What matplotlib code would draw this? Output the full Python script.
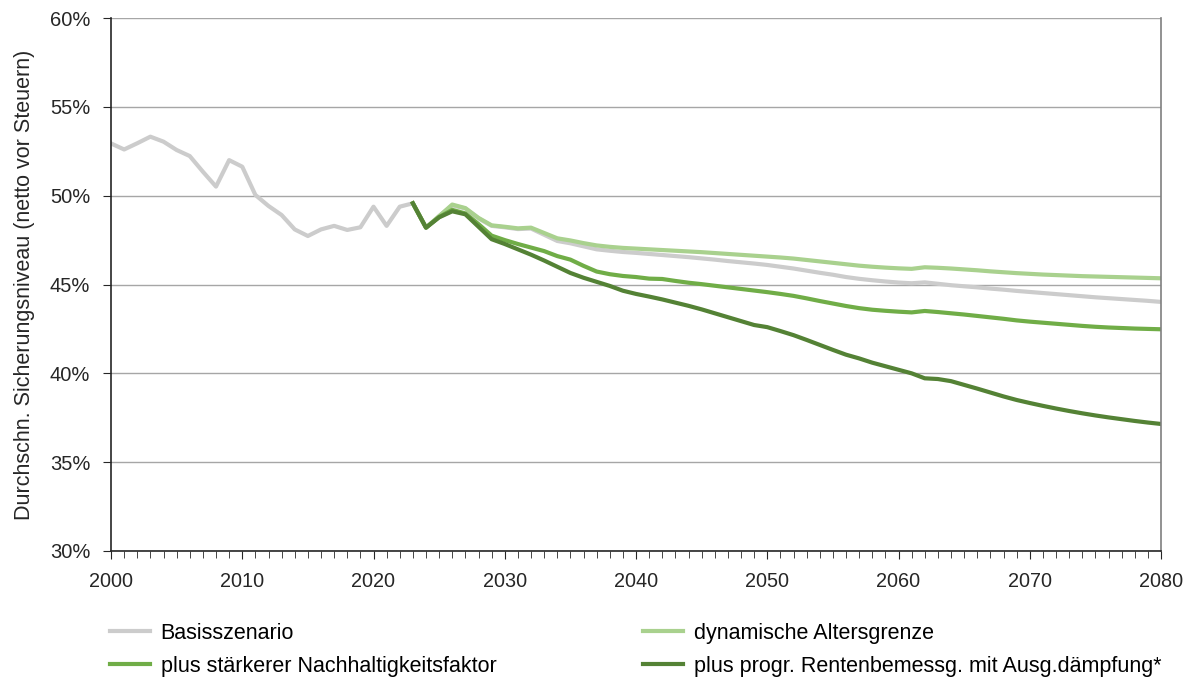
import numpy as np
import matplotlib
matplotlib.use("Agg")
import matplotlib.pyplot as plt
from matplotlib.ticker import MultipleLocator, FuncFormatter

plt.rcParams["font.family"] = ["Liberation Sans", "DejaVu Sans"]

# historical basis 2000-2022
hist_years = list(range(2000, 2023))
hist_vals = [52.94, 52.6, 52.95, 53.32, 53.04, 52.57, 52.23, 51.35, 50.51, 52.0,
             51.63, 50.04, 49.42, 48.91, 48.1, 47.73, 48.1, 48.3, 48.07, 48.22,
             49.38, 48.3, 49.38]

# scenario years 2023-2080
years = list(range(2023, 2081))
basis = [49.57, 48.2, 48.85, 49.45, 49.28, 48.72, 48.3, 48.22, 48.12, 48.15,
         47.8, 47.45, 47.32, 47.15, 46.98, 46.9, 46.83, 46.78, 46.72, 46.66,
         46.6, 46.54, 46.47, 46.4, 46.32, 46.25, 46.18, 46.1, 46.0, 45.9,
         45.78, 45.66, 45.55, 45.42, 45.32, 45.24, 45.17, 45.11, 45.07, 45.12,
         45.04, 44.96, 44.9, 44.84, 44.77, 44.71, 44.64, 44.58, 44.52, 44.46,
         44.4, 44.34, 44.28, 44.23, 44.18, 44.13, 44.08, 44.02]
dyn_alter = [49.57, 48.2, 48.85, 49.5, 49.3, 48.75, 48.33, 48.25, 48.16, 48.2,
             47.9, 47.6, 47.48, 47.33, 47.2, 47.12, 47.06, 47.02, 46.98, 46.94,
             46.9, 46.86, 46.82, 46.77, 46.72, 46.67, 46.62, 46.57, 46.52, 46.46,
             46.38, 46.3, 46.22, 46.14, 46.06, 46.0, 45.95, 45.91, 45.88, 45.97,
             45.94, 45.9, 45.85, 45.8, 45.74, 45.69, 45.64, 45.6, 45.56, 45.53,
             45.5, 45.47, 45.45, 45.43, 45.41, 45.39, 45.37, 45.35]
nachhalt = [49.57, 48.2, 48.8, 49.2, 49.0, 48.4, 47.75, 47.5, 47.28, 47.08,
            46.88, 46.6, 46.4, 46.05, 45.73, 45.58, 45.48, 45.42, 45.33, 45.31,
            45.2, 45.1, 45.02, 44.93, 44.84, 44.75, 44.66, 44.57, 44.47, 44.36,
            44.22, 44.07, 43.93, 43.79, 43.67, 43.58, 43.52, 43.47, 43.43, 43.51,
            43.45, 43.38, 43.31, 43.23, 43.15, 43.07, 42.98, 42.91, 42.85, 42.79,
            42.73, 42.67, 42.62, 42.58, 42.55, 42.52, 42.5, 42.48]
progr = [49.57, 48.2, 48.78, 49.12, 48.95, 48.25, 47.55, 47.28, 46.98, 46.68,
         46.35, 46.0, 45.65, 45.38, 45.15, 44.92, 44.65, 44.47, 44.32, 44.16,
         43.98, 43.8, 43.6, 43.38, 43.16, 42.94, 42.72, 42.6, 42.38, 42.15,
         41.88, 41.6, 41.32, 41.05, 40.84, 40.6, 40.4, 40.2, 40.0, 39.72,
         39.68, 39.56, 39.35, 39.14, 38.92, 38.7, 38.5, 38.33, 38.17, 38.02,
         37.88, 37.75, 37.63, 37.52, 37.42, 37.32, 37.23, 37.15]

labels = ["Basisszenario", "dynamische Altersgrenze",
          "plus stärkerer Nachhaltigkeitsfaktor",
          "plus progr. Rentenbemessg. mit Ausg.dämpfung*"]
colors = ["#cccccc", "#a9d18e", "#70ad47", "#548235"]

fig = plt.figure(figsize=(11.93, 6.83), dpi=100)
ax = fig.add_axes([111 / 1193, 132 / 683, 1050 / 1193, 533 / 683])

lw = 3.0
h0, = ax.plot(hist_years + years, hist_vals + basis, color=colors[0], lw=lw)
h1, = ax.plot(years, dyn_alter, color=colors[1], lw=lw)
h2, = ax.plot(years, nachhalt, color=colors[2], lw=lw)
h3, = ax.plot(years, progr, color=colors[3], lw=lw)

ax.set_xlim(2000, 2080)
ax.set_ylim(30, 60)
ax.xaxis.set_major_locator(MultipleLocator(10))
ax.xaxis.set_minor_locator(MultipleLocator(1))
ax.yaxis.set_major_locator(MultipleLocator(5))
ax.yaxis.set_major_formatter(FuncFormatter(lambda v, p: f"{v:.0f}%"))
ax.grid(axis="y", color="#a6a6a6", lw=1.0)
ax.set_axisbelow(True)
ax.spines["top"].set_visible(False)
for s in ["left", "bottom"]:
    ax.spines[s].set_color("#262626")
    ax.spines[s].set_linewidth(1.2)
ax.spines["right"].set_color("#7f7f7f")
ax.spines["right"].set_linewidth(1.2)
ax.tick_params(axis="x", which="major", direction="out", length=6,
               labelsize=14.3, colors="#262626", pad=9)
ax.tick_params(axis="x", which="minor", direction="out", length=5,
               color="#262626")
ax.tick_params(axis="y", which="major", direction="out", length=6,
               labelsize=14.5, colors="#262626", pad=9)
ax.set_ylabel("Durchschn. Sicherungsniveau (netto vor Steuern)", fontsize=15.5,
              color="#262626", labelpad=11)

leg_kw = dict(frameon=False, fontsize=15.5, handlelength=1.85,
              handletextpad=0.5, labelspacing=0.54, borderaxespad=0,
              borderpad=0)
leg1 = fig.legend([h0, h2], [labels[0], labels[2]], loc="upper left",
                  bbox_to_anchor=(110 / 1193, 1 - 623 / 683), **leg_kw)
leg2 = fig.legend([h1, h3], [labels[1], labels[3]], loc="upper left",
                  bbox_to_anchor=(643 / 1193, 1 - 623 / 683), **leg_kw)

fig.savefig("out.png", dpi=100)
